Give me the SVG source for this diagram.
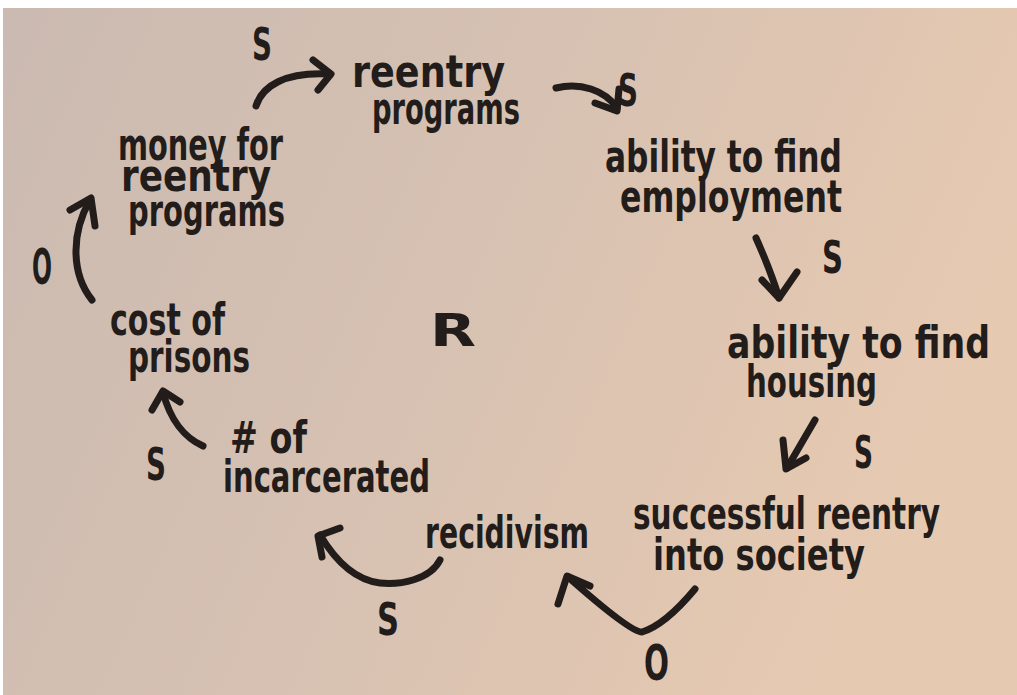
<svg xmlns="http://www.w3.org/2000/svg" width="1017" height="695" viewBox="0 0 1017 695">
<defs>
<linearGradient id="paper" x1="0" y1="0" x2="1" y2="0.3">
<stop offset="0" stop-color="#cbbab1"/>
<stop offset="0.5" stop-color="#d6c1b2"/>
<stop offset="1" stop-color="#e6c9b1"/>
</linearGradient>
<style>
.t{font-family:"DejaVu Sans","Liberation Sans",sans-serif;font-weight:bold;fill:#221c1a;font-size:44px}
.l{font-size:44px}
.o{font-size:50px}
.c{fill:none;stroke:#221c1a;stroke-width:7;stroke-linecap:round;stroke-linejoin:round}
</style>
</defs>
<rect width="1017" height="695" fill="#ffffff"/>
<rect x="3" y="8" width="1014" height="687" fill="url(#paper)"/>
<g id="connectors">
<path class="c" d="M256,106 C262,86 285,72 328,74"/>
<path class="c" d="M313,60 L331,74 L318,90"/>
<path class="c" d="M556,88 C580,82 605,90 617,108"/>
<path class="c" d="M595,103 L617,111 L619,89"/>
<path class="c" d="M756,238 C765,258 772,275 779,298"/>
<path class="c" d="M762,280 L779,298 L797,272"/>
<path class="c" d="M815,420 L787,468"/>
<path class="c" d="M783,440 L786,469 L806,458"/>
<path class="c" d="M695,589 Q665,625 642,632 Q630,632 568,577"/>
<path class="c" d="M558,604 L567,576 L590,586"/>
<path class="c" d="M440,560 C430,580 400,585 380,583 C355,580 335,560 320,535"/>
<path class="c" d="M340,528 L318,536 L322,557"/>
<path class="c" d="M203,446 C185,438 170,420 163,392"/>
<path class="c" d="M152,410 L163,391 L180,402"/>
<path class="c" d="M92,300 C72,275 70,235 90,200"/>
<path class="c" d="M70,210 L91,198 L95,226"/>
</g>
<g id="polarities">
<text class="t l" x="252" y="60" textLength="20" lengthAdjust="spacingAndGlyphs">S</text>
<text class="t l" x="618" y="106" textLength="20" lengthAdjust="spacingAndGlyphs">S</text>
<text class="t l" x="822" y="273" textLength="21" lengthAdjust="spacingAndGlyphs">S</text>
<text class="t l" x="854" y="468" textLength="19" lengthAdjust="spacingAndGlyphs">S</text>
<text class="t l" x="377" y="635" textLength="22" lengthAdjust="spacingAndGlyphs">S</text>
<text class="t l" x="146" y="480" textLength="20" lengthAdjust="spacingAndGlyphs">S</text>
<text class="t o" x="644" y="680" textLength="25" lengthAdjust="spacingAndGlyphs">O</text>
<text class="t o" x="32" y="284" textLength="20" lengthAdjust="spacingAndGlyphs">O</text>
<text class="t" x="430" y="346" font-size="62" textLength="46" lengthAdjust="spacingAndGlyphs">R</text>
</g>
<g id="node-reentry-programs">
<text class="t" x="352" y="87" font-size="44" textLength="153" lengthAdjust="spacingAndGlyphs">reentry</text>
<text class="t" x="372" y="124" font-size="46" textLength="148" lengthAdjust="spacingAndGlyphs">programs</text>
</g>
<g id="node-money">
<text class="t" x="118" y="160" font-size="40" textLength="165" lengthAdjust="spacingAndGlyphs">money for</text>
<text class="t" x="121" y="191" font-size="35" textLength="150" lengthAdjust="spacingAndGlyphs">reentry</text>
<text class="t" x="128" y="226" font-size="44" textLength="157" lengthAdjust="spacingAndGlyphs">programs</text>
</g>
<g id="node-employment">
<text class="t" x="605" y="172" font-size="44" textLength="237" lengthAdjust="spacingAndGlyphs">ability to find</text>
<text class="t" x="620" y="212" font-size="44" textLength="222" lengthAdjust="spacingAndGlyphs">employment</text>
</g>
<g id="node-housing">
<text class="t" x="727" y="358" font-size="50" textLength="263" lengthAdjust="spacingAndGlyphs">ability to find</text>
<text class="t" x="746" y="397" font-size="44" textLength="131" lengthAdjust="spacingAndGlyphs">housing</text>
</g>
<g id="node-successful-reentry">
<text class="t" x="633" y="529" font-size="44" textLength="307" lengthAdjust="spacingAndGlyphs">successful reentry</text>
<text class="t" x="653" y="570" font-size="46" textLength="212" lengthAdjust="spacingAndGlyphs">into society</text>
</g>
<g id="node-recidivism">
<text class="t" x="425" y="548" font-size="44" textLength="164" lengthAdjust="spacingAndGlyphs">recidivism</text>
</g>
<g id="node-incarcerated">
<text class="t" x="230" y="453" font-size="42" textLength="77" lengthAdjust="spacingAndGlyphs"># of</text>
<text class="t" x="223" y="492" font-size="44" textLength="207" lengthAdjust="spacingAndGlyphs">incarcerated</text>
</g>
<g id="node-cost-of-prisons">
<text class="t" x="110" y="335" font-size="42" textLength="115" lengthAdjust="spacingAndGlyphs">cost of</text>
<text class="t" x="128" y="372" font-size="44" textLength="122" lengthAdjust="spacingAndGlyphs">prisons</text>
</g>
</svg>
